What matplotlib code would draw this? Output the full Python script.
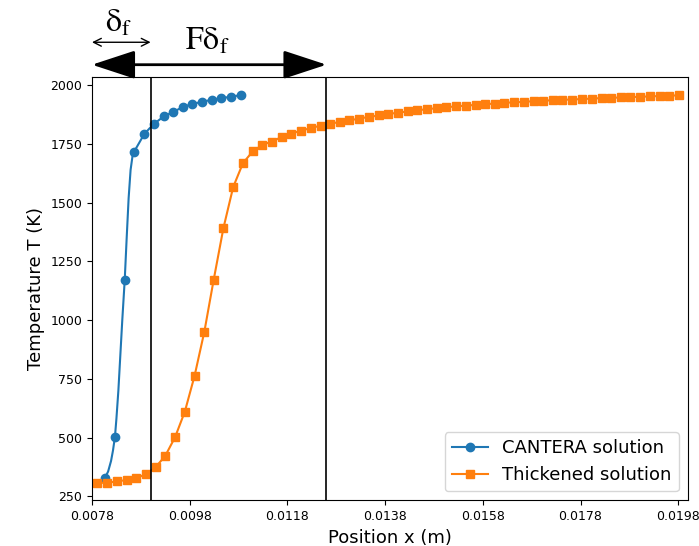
import matplotlib
matplotlib.use("Agg")
import matplotlib.pyplot as plt

# CANTERA solution (dense line, markers on a subset)
x_cantera = [0.00806, 0.00813, 0.00819, 0.00823, 0.00827, 0.00830, 0.00834, 0.00838,
             0.00842, 0.00847, 0.00851, 0.00855, 0.00859, 0.00863, 0.00866,
             0.00887, 0.00906, 0.00927, 0.00946, 0.00966,
             0.00985, 0.01005, 0.01025, 0.01045, 0.01065, 0.01085]
T_cantera = [326, 355, 400, 445, 503, 580, 700, 850,
             1000, 1171, 1350, 1520, 1640, 1700, 1717,
             1793, 1835, 1868, 1887, 1908,
             1921, 1930, 1939, 1946, 1952, 1959]
cantera_marks = [0, 4, 9, 14, 15, 16, 17, 18, 19, 20, 21, 22, 23, 24, 25]

# Thickened solution
x_thick = [0.00791, 0.00811, 0.00831, 0.00851, 0.00871, 0.00890, 0.00910, 0.00930,
           0.00950, 0.00970, 0.00990, 0.01010, 0.01029, 0.01049, 0.01069, 0.01089,
           0.01109, 0.01129, 0.01148, 0.01168, 0.01188, 0.01208, 0.01228, 0.01248,
           0.01267, 0.01287, 0.01307, 0.01327, 0.01347, 0.01367, 0.01386, 0.01406,
           0.01426, 0.01446, 0.01466, 0.01486, 0.01505, 0.01525, 0.01545, 0.01565,
           0.01585, 0.01605, 0.01624, 0.01644, 0.01664, 0.01684, 0.01704, 0.01724,
           0.01743, 0.01763, 0.01783, 0.01803, 0.01823, 0.01843, 0.01862, 0.01882,
           0.01902, 0.01922, 0.01942, 0.01961, 0.01981]
T_thick = [307, 307, 313, 319, 328, 343, 373, 422, 501, 610,
           763, 951, 1171, 1392, 1567, 1669, 1719,
           1747, 1761, 1780, 1794, 1808, 1818, 1829, 1837, 1844, 1851, 1859,
           1866, 1872, 1878, 1884, 1889, 1894, 1899, 1903, 1907, 1911, 1914,
           1917, 1920, 1923,
           1926, 1928, 1930, 1933, 1935, 1937, 1939, 1940, 1942, 1944, 1946,
           1947, 1949, 1950, 1952, 1953, 1955, 1956, 1958]

x_ticks = [0.0078, 0.0098, 0.0118, 0.0138, 0.0158, 0.0178, 0.0198]
x_start = 0.0078
flame_edge = 0.009        # delta_f
thick_edge = 0.0126       # F * delta_f

plt.rcParams['mathtext.fontset'] = 'stix'

fig = plt.figure(figsize=(6.99, 5.46), dpi=100)
ax = fig.add_axes([0.1316, 0.0835, 0.8527, 0.7755])

ax.plot(x_cantera, T_cantera, '-o', color='#1f77b4', markevery=cantera_marks,
        label='CANTERA solution')
ax.plot(x_thick, T_thick, '-s', color='#ff7f0e', label='Thickened solution')

ax.axvline(flame_edge, color='black', lw=1.2)
ax.axvline(thick_edge, color='black', lw=1.2)

ax.set_xlim(0.0078, 0.02)
ax.set_ylim(232, 2036)
ax.set_xticks(x_ticks)
ax.set_xticklabels([f'{t:.4f}' for t in x_ticks])
ax.set_yticks([250, 500, 750, 1000, 1250, 1500, 1750, 2000])
ax.tick_params(labelsize=9)
ax.set_xlabel('Position x (m)', fontsize=13)
ax.set_ylabel('Temperature T (K)', fontsize=13)

ax.legend(loc='lower right', fontsize=13)

# arrows above the axes showing flame thickness
trans = ax.get_xaxis_transform()
ax.annotate('', xy=(x_start, 1.082), xytext=(flame_edge, 1.082), xycoords=trans,
            textcoords=trans, annotation_clip=False,
            arrowprops=dict(arrowstyle='<->', color='black', lw=1.0, mutation_scale=14,
                            shrinkA=0, shrinkB=0))
ax.annotate('', xy=(x_start, 1.029), xytext=(thick_edge, 1.029), xycoords=trans,
            textcoords=trans, annotation_clip=False,
            arrowprops=dict(arrowstyle='<|-|>,head_length=0.67,head_width=0.22',
                            color='black', lw=2.0, mutation_scale=40,
                            shrinkA=0, shrinkB=0))
ax.text(0.00834, 1.107, r'$\mathrm{\delta_f}$', transform=trans, ha='center',
        va='baseline', fontsize=23)
ax.text(0.01017, 1.0645, r'$\mathrm{F\delta_f}$', transform=trans, ha='center',
        va='baseline', fontsize=23)

fig.savefig('out.png', dpi=100)
